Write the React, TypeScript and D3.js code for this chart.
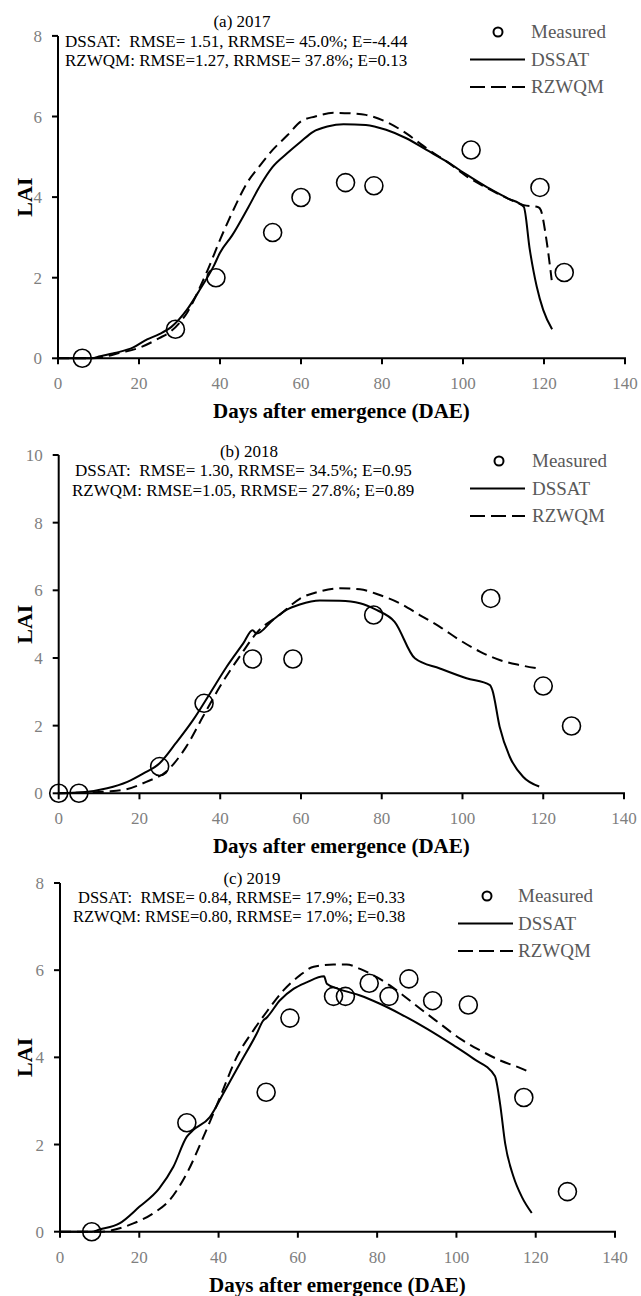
import React from "react";
import * as d3 from "d3";

// ---------- DATA ----------
const xTicks = [0, 20, 40, 60, 80, 100, 120, 140];
const yTicksA = [0, 2, 4, 6, 8];
const yTicksB = [0, 2, 4, 6, 8, 10];
const yTicksC = [0, 2, 4, 6, 8];

const titles = ["(a) 2017", "(b) 2018", "(c) 2019"];
const statsDssat = [
  "DSSAT:  RMSE= 1.51, RRMSE= 45.0%; E=-4.44",
  "DSSAT:  RMSE= 1.30, RRMSE= 34.5%; E=0.95",
  "DSSAT:  RMSE= 0.84, RRMSE= 17.9%; E=0.33",
];
const statsRzwqm = [
  "RZWQM: RMSE=1.27, RRMSE= 37.8%; E=0.13",
  "RZWQM: RMSE=1.05, RRMSE= 27.8%; E=0.89",
  "RZWQM: RMSE=0.80, RRMSE= 17.0%; E=0.38",
];
const legendLabels = ["Measured", "DSSAT", "RZWQM"];

// 2017
const measured2017: [number, number][] = [
  [6, 0], [29, 0.72], [39, 2.0], [53, 3.12], [60, 3.99], [71, 4.36], [78, 4.28], [102, 5.17], [119, 4.24], [125, 2.13],
];
const dssat2017: [number, number][] = [
  [0, 0], [8, 0], [10.4, 0.05], [14, 0.13], [18.6, 0.27], [22, 0.47], [25, 0.6], [28, 0.78], [31.8, 1.2], [35, 1.7],
  [38.5, 2.3], [40, 2.62], [43, 3.05], [47, 3.75], [50, 4.3], [53, 4.75], [56.5, 5.08], [60, 5.38], [63, 5.62],
  [66.5, 5.75], [70.5, 5.81], [76, 5.79], [81, 5.67], [86, 5.46], [91, 5.17], [96, 4.88], [101, 4.55], [106, 4.24],
  [111, 3.97], [115, 3.76], [116.5, 2.69], [118.2, 1.78], [119.8, 1.2], [122, 0.72],
];
const rzwqm2017: [number, number][] = [
  [0, 0], [8, 0], [12, 0.05], [15, 0.13], [20, 0.26], [25, 0.5], [28, 0.68], [30, 0.88], [32, 1.15], [35, 1.75],
  [37, 2.2], [40, 2.94], [43.3, 3.68], [46.6, 4.34], [50, 4.8], [53, 5.17], [56.7, 5.54], [60, 5.88], [63.5, 6.0],
  [68, 6.09], [72, 6.08], [76, 6.04], [81, 5.87], [86, 5.58], [91, 5.21], [96, 4.88], [101, 4.51], [106, 4.22],
  [111, 3.97], [115, 3.8], [118.6, 3.75], [119.2, 3.68], [120.6, 2.94], [121.9, 1.94],
];

// 2018
const measured2018: [number, number][] = [
  [0, 0], [5, 0], [25, 0.79], [36, 2.66], [48, 3.97], [58, 3.97], [78, 5.27], [107, 5.76], [120, 3.17], [127, 1.99],
];
const dssat2018: [number, number][] = [
  [0, 0], [6, 0.03], [12, 0.15], [17, 0.34], [21, 0.59], [25, 0.89], [29, 1.48], [33.3, 2.17], [37.5, 2.96],
  [41.6, 3.74], [45.7, 4.43], [48, 4.82], [49, 4.72], [53, 5.12], [56.4, 5.42], [59.7, 5.58], [64.7, 5.7],
  [69.6, 5.69], [74.6, 5.62], [78.7, 5.42], [83.2, 5.07], [88.2, 3.99], [94.4, 3.69], [101, 3.4], [106.8, 3.2],
  [107.4, 3.05], [109.2, 1.97], [111.7, 1.08], [115, 0.49], [119, 0.2],
];
const rzwqm2018: [number, number][] = [
  [0, 0], [6, 0.02], [12, 0.05], [16.8, 0.12], [21.7, 0.34], [26.6, 0.64], [31.6, 1.38], [35.7, 2.26],
  [39.9, 3.15], [44.8, 4.04], [49.3, 4.78], [54.7, 5.27], [59.7, 5.75], [64.7, 5.97], [69.6, 6.06], [74.6, 6.03],
  [79.5, 5.86], [84.4, 5.62], [89.4, 5.27], [94.4, 4.92], [99.3, 4.53], [104.3, 4.19], [109.2, 3.94],
  [114.2, 3.79], [118.7, 3.69],
];

// 2019
const measured2019: [number, number][] = [
  [8, 0], [32, 2.5], [52, 3.2], [58, 4.9], [69, 5.4], [72, 5.4], [78, 5.7], [83, 5.4], [88, 5.8], [94, 5.3],
  [103, 5.2], [117, 3.08], [128, 0.92],
];
const dssat2019: [number, number][] = [
  [0, 0], [8, 0], [10, 0.05], [15, 0.19], [20, 0.57], [25, 0.99], [28.6, 1.49], [32, 2.18], [33.6, 2.33],
  [37.8, 2.63], [41.2, 3.17], [45.4, 3.86], [49.6, 4.54], [51.3, 4.85], [52, 4.9], [55.5, 5.31], [58.9, 5.57],
  [62.2, 5.72], [66.6, 5.86], [67.3, 5.69], [70.6, 5.56], [75.7, 5.42], [80.7, 5.23], [85.8, 5.0], [92.5, 4.66],
  [99.2, 4.28], [104.3, 3.97], [109.7, 3.57], [111, 2.94], [112.3, 2.02], [114.4, 1.26], [116.5, 0.8], [119, 0.43],
];
const rzwqm2019: [number, number][] = [
  [0, 0], [10, 0], [18.5, 0.19], [23.5, 0.42], [27.7, 0.73], [32, 1.34], [36.2, 2.18], [40.4, 3.09],
  [44.6, 4.01], [48.8, 4.62], [52.1, 5.04], [56.3, 5.53], [60.5, 5.88], [64, 6.08], [69, 6.13], [72.3, 6.13],
  [75.7, 6.03], [79.9, 5.84], [83.2, 5.65], [86.6, 5.42], [90.8, 5.12], [95.9, 4.77], [100.9, 4.43], [106, 4.16],
  [111, 3.93], [116, 3.76], [119, 3.64],
];

// ---------- LAYOUT ----------
const W = 641;
const H = 1296;
const FONT = "'Liberation Serif', 'Times New Roman', serif";

type Panel = {
  x0: number; x1: number; y0: number; y1: number; ymax: number; yTicks: number[];
  measured: [number, number][]; dssat: [number, number][]; rzwqm: [number, number][];
  title: string; titleX: number; titleY: number;
  s1: string; s1x: number; s1y: number; s2: string; s2x: number; s2y: number; statSize: number;
  legX: number; legTextX: number; legY: number; legCircleX: number;
};

const panels: Panel[] = [
  {
    x0: 58, x1: 625, y0: 358.3, y1: 35.9, ymax: 8, yTicks: yTicksA,
    measured: measured2017, dssat: dssat2017, rzwqm: rzwqm2017,
    title: titles[0], titleX: 242, titleY: 27,
    s1: statsDssat[0], s1x: 65, s1y: 47, s2: statsRzwqm[0], s2x: 65, s2y: 66, statSize: 17,
    legX: 470, legTextX: 531, legY: 32, legCircleX: 498,
  },
  {
    x0: 58.7, x1: 624, y0: 793.3, y1: 455, ymax: 10, yTicks: yTicksB,
    measured: measured2018, dssat: dssat2018, rzwqm: rzwqm2018,
    title: titles[1], titleX: 249, titleY: 457,
    s1: statsDssat[1], s1x: 75, s1y: 476, s2: statsRzwqm[1], s2x: 72, s2y: 496, statSize: 17,
    legX: 470, legTextX: 532, legY: 461, legCircleX: 499,
  },
  {
    x0: 60, x1: 615, y0: 1231.7, y1: 883, ymax: 8, yTicks: yTicksC,
    measured: measured2019, dssat: dssat2019, rzwqm: rzwqm2019,
    title: titles[2], titleX: 252, titleY: 884,
    s1: statsDssat[2], s1x: 78, s1y: 903, s2: statsRzwqm[2], s2x: 73, s2y: 922, statSize: 16.5,
    legX: 458, legTextX: 518, legY: 896, legCircleX: 487,
  },
];

function PanelView({ p }: { p: Panel }) {
  const x = d3.scaleLinear().domain([0, 140]).range([p.x0, p.x1]);
  const y = d3.scaleLinear().domain([0, p.ymax]).range([p.y0, p.y1]);
  const line = d3
    .line<[number, number]>()
    .x((d) => x(d[0]))
    .y((d) => y(d[1]))
    .curve(d3.curveMonotoneX);
  const tickGray = "#7f7f7f";
  const legGray = "#595959";
  const legRow = 27.5;
  return (
    <g>
      {/* y axis */}
      <line x1={p.x0} x2={p.x0} y1={p.y0} y2={p.y1} stroke="#000" strokeWidth={2} />
      {p.yTicks.map((t) => (
        <g key={"y" + t}>
          <line x1={p.x0 - 6} x2={p.x0} y1={y(t)} y2={y(t)} stroke="#000" strokeWidth={2} />
          <text x={p.x0 - 16} y={y(t) + 6} textAnchor="end" fontSize={17} fill={tickGray} fontFamily={FONT}>
            {t}
          </text>
        </g>
      ))}
      {/* x axis */}
      <line x1={p.x0 - 1} x2={p.x1 + 1} y1={p.y0} y2={p.y0} stroke="#000" strokeWidth={2} />
      {xTicks.map((t) => (
        <g key={"x" + t}>
          <line x1={x(t)} x2={x(t)} y1={p.y0} y2={p.y0 + 6} stroke="#000" strokeWidth={2} />
          <text x={x(t)} y={p.y0 + 31} textAnchor="middle" fontSize={17} fill={tickGray} fontFamily={FONT}>
            {t}
          </text>
        </g>
      ))}
      {/* axis titles */}
      <text
        x={(p.x0 + p.x1) / 2 + 0}
        y={p.y0 + 60}
        textAnchor="middle"
        fontSize={21}
        fontWeight="bold"
        fontFamily={FONT}
        fill="#000"
      >
        Days after emergence (DAE)
      </text>
      <text
        transform={`translate(32,${(p.y0 + p.y1) / 2}) rotate(-90)`}
        textAnchor="middle"
        fontSize={22}
        fontWeight="bold"
        fontFamily={FONT}
        fill="#000"
      >
        LAI
      </text>
      {/* series */}
      <path d={line(p.dssat) || ""} fill="none" stroke="#000" strokeWidth={2} />
      <path d={line(p.rzwqm) || ""} fill="none" stroke="#000" strokeWidth={2} strokeDasharray="11,6" />
      {p.measured.map((d, i) => (
        <circle key={"m" + i} cx={x(d[0])} cy={y(d[1])} r={9} fill="none" stroke="#000" strokeWidth={1.6} />
      ))}
      {/* annotations */}
      <text x={p.titleX} y={p.titleY} textAnchor="middle" fontSize={17} fontFamily={FONT} fill="#000">
        {p.title}
      </text>
      <text x={p.s1x} y={p.s1y} fontSize={p.statSize} fontFamily={FONT} fill="#000" xmlSpace="preserve">
        {p.s1}
      </text>
      <text x={p.s2x} y={p.s2y} fontSize={p.statSize} fontFamily={FONT} fill="#000" xmlSpace="preserve">
        {p.s2}
      </text>
      {/* legend */}
      <circle cx={p.legCircleX} cy={p.legY} r={4.5} fill="none" stroke="#000" strokeWidth={2} />
      <text x={p.legTextX} y={p.legY + 6} fontSize={19} fontFamily={FONT} fill={legGray}>
        {legendLabels[0]}
      </text>
      <line x1={p.legX} x2={p.legX + 55} y1={p.legY + legRow} y2={p.legY + legRow} stroke="#000" strokeWidth={2} />
      <text x={p.legTextX} y={p.legY + legRow + 6} fontSize={19} fontFamily={FONT} fill={legGray}>
        {legendLabels[1]}
      </text>
      <line
        x1={p.legX}
        x2={p.legX + 55}
        y1={p.legY + 2 * legRow}
        y2={p.legY + 2 * legRow}
        stroke="#000"
        strokeWidth={2}
        strokeDasharray="15,6"
      />
      <text x={p.legTextX} y={p.legY + 2 * legRow + 6} fontSize={19} fontFamily={FONT} fill={legGray}>
        {legendLabels[2]}
      </text>
    </g>
  );
}

export default function App() {
  return (
    <svg
      width={W}
      height={H}
      style={{ position: "absolute", left: 0, top: 0, display: "block", background: "#fff" }}
    >
      <rect x={0} y={0} width={W} height={H} fill="#fff" />
      {panels.map((p, i) => (
        <PanelView key={i} p={p} />
      ))}
    </svg>
  );
}
